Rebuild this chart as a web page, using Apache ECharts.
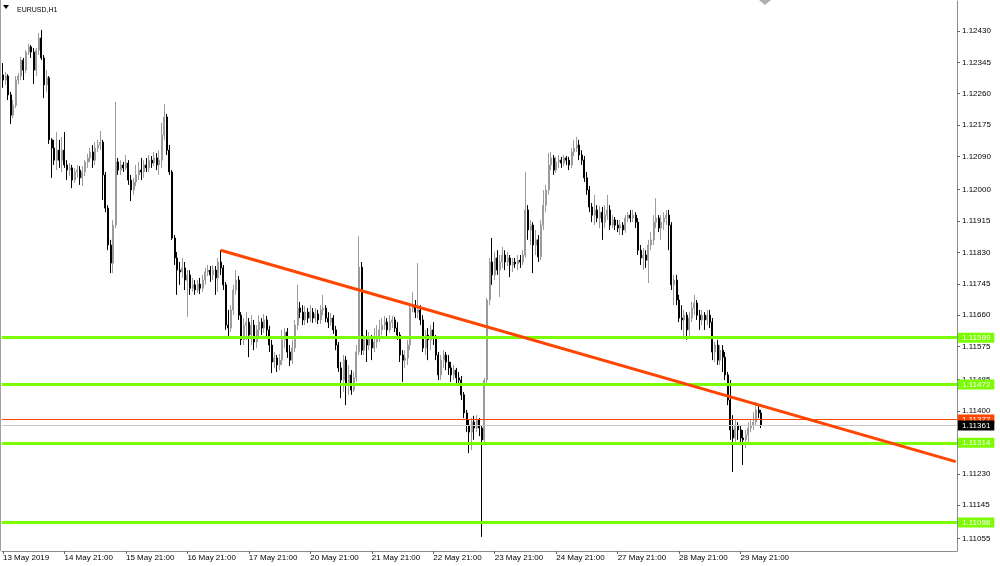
<!DOCTYPE html>
<html><head><meta charset="utf-8">
<script src="https://cdn.jsdelivr.net/npm/echarts@6/dist/echarts.min.js"></script>
<style>html,body{margin:0;padding:0;background:#fff}#c{width:1000px;height:566px}</style>
</head><body><div id="c"></div>
<script>
// ---- data ----
const symbolTitle = 'EURUSD,H1';
const tickLabels = ['13 May 2019','14 May 21:00','15 May 21:00','16 May 21:00','17 May 21:00','20 May 21:00','21 May 21:00','22 May 21:00','23 May 21:00','24 May 21:00','27 May 21:00','28 May 21:00','29 May 21:00'];
const yTickValues = [1.11055,1.11145,1.11230,1.11400,1.11485,1.11575,1.11660,1.11745,1.11830,1.11915,1.12000,1.12090,1.12175,1.12260,1.12345,1.12430];
const levelLines = [1.11599,1.11472,1.11314,1.11098];
const askPrice = 1.11377;
const bidPrice = 1.11361;
const trendStart = [85, 1.11836];
const trendEnd = [372, 1.11263];
const barsPerLabel = 24;
const slotCount = 373;
const yMin = 1.110208, yMax = 1.125113;

const opens = [1.12311,1.12297,1.12308,1.12257,1.12202,1.12229,1.12297,1.12308,1.12351,1.12324,
1.12373,1.12387,1.12373,1.12324,1.12378,1.12411,1.12357,1.12284,1.12303,1.12135,
1.12113,1.12080,1.12107,1.12080,1.12107,1.12067,1.12053,1.12059,1.12026,1.12048,
1.12053,1.12032,1.12048,1.12075,1.12086,1.12102,1.12080,1.12113,1.12121,1.12129,
1.12040,1.11950,1.11850,1.11801,1.11904,1.12075,1.12053,1.12067,1.12059,1.12072,
1.12026,1.11999,1.12021,1.12040,1.12053,1.12048,1.12067,1.12059,1.12080,1.12072,
1.12086,1.12067,1.12080,1.12148,1.12197,1.12107,1.12048,1.11869,1.11815,1.11782,
1.11777,1.11788,1.11755,1.11769,1.11733,1.11742,1.11728,1.11744,1.11733,1.11755,
1.11777,1.11782,1.11769,1.11782,1.11761,1.11804,1.11788,1.11742,1.11633,1.11625,
1.11674,1.11728,1.11755,1.11660,1.11593,1.11633,1.11641,1.11606,1.11633,1.11587,
1.11620,1.11641,1.11625,1.11647,1.11620,1.11579,1.11533,1.11544,1.11525,1.11538,
1.11593,1.11614,1.11560,1.11538,1.11571,1.11633,1.11679,1.11668,1.11647,1.11668,
1.11652,1.11668,1.11652,1.11663,1.11647,1.11674,1.11679,1.11652,1.11641,1.11652,
1.11620,1.11579,1.11517,1.11484,1.11538,1.11471,1.11498,1.11457,1.11490,1.11560,
1.11790,1.11565,1.11593,1.11579,1.11598,1.11571,1.11587,1.11598,1.11620,1.11633,
1.11641,1.11620,1.11641,1.11647,1.11625,1.11606,1.11552,1.11538,1.11544,1.11579,
1.11679,1.11687,1.11668,1.11674,1.11647,1.11571,1.11606,1.11593,1.11620,1.11598,
1.11552,1.11498,1.11538,1.11552,1.11533,1.11517,1.11498,1.11511,1.11490,1.11484,
1.11444,1.11395,1.11362,1.11343,1.11370,1.11354,1.11376,1.11354,1.11322,1.11484,
1.11701,1.11804,1.11769,1.11815,1.11782,1.11804,1.11823,1.11804,1.11815,1.11796,
1.11804,1.11799,1.11809,1.11804,1.11823,1.11945,1.11891,1.11904,1.11850,1.11864,
1.11818,1.11904,1.11958,1.11999,1.12067,1.12086,1.12053,1.12075,1.12080,1.12072,
1.12086,1.12080,1.12067,1.12102,1.12113,1.12121,1.12094,1.12080,1.12032,1.11999,
1.11953,1.11931,1.11945,1.11923,1.11939,1.11912,1.11931,1.11945,1.11904,1.11918,
1.11904,1.11896,1.11904,1.11891,1.11923,1.11931,1.11923,1.11931,1.11912,1.11836,
1.11815,1.11823,1.11809,1.11850,1.11864,1.11912,1.11923,1.11896,1.11912,1.11923,
1.11931,1.11904,1.11742,1.11755,1.11701,1.11652,1.11647,1.11660,1.11620,1.11652,
1.11679,1.11693,1.11660,1.11647,1.11660,1.11647,1.11660,1.11641,1.11560,1.11579,
1.11538,1.11565,1.11546,1.11498,1.11430,1.11349,1.11327,1.11362,1.11349,1.11327,
1.11322,1.11335,1.11354,1.11362,1.11370,1.11403,1.11395];

const closes = [1.12297,1.12308,1.12257,1.12202,1.12229,1.12297,1.12308,1.12351,1.12324,1.12373,
1.12387,1.12373,1.12324,1.12378,1.12411,1.12357,1.12284,1.12303,1.12135,1.12113,
1.12080,1.12107,1.12080,1.12107,1.12067,1.12053,1.12059,1.12026,1.12048,1.12053,
1.12032,1.12048,1.12075,1.12086,1.12102,1.12080,1.12113,1.12121,1.12129,1.12040,
1.11950,1.11850,1.11801,1.11904,1.12075,1.12053,1.12067,1.12059,1.12072,1.12026,
1.11999,1.12021,1.12040,1.12053,1.12048,1.12067,1.12059,1.12080,1.12072,1.12086,
1.12067,1.12080,1.12148,1.12197,1.12107,1.12048,1.11869,1.11815,1.11782,1.11777,
1.11788,1.11755,1.11769,1.11733,1.11742,1.11728,1.11744,1.11733,1.11755,1.11777,
1.11782,1.11769,1.11782,1.11761,1.11804,1.11788,1.11742,1.11633,1.11625,1.11674,
1.11728,1.11755,1.11660,1.11593,1.11633,1.11641,1.11606,1.11633,1.11587,1.11620,
1.11641,1.11625,1.11647,1.11620,1.11579,1.11533,1.11544,1.11525,1.11538,1.11593,
1.11614,1.11560,1.11538,1.11571,1.11633,1.11679,1.11668,1.11647,1.11668,1.11652,
1.11668,1.11652,1.11663,1.11647,1.11674,1.11679,1.11652,1.11641,1.11652,1.11620,
1.11579,1.11517,1.11484,1.11538,1.11471,1.11498,1.11457,1.11490,1.11560,1.11790,
1.11565,1.11593,1.11579,1.11598,1.11571,1.11587,1.11598,1.11620,1.11633,1.11641,
1.11620,1.11641,1.11647,1.11625,1.11606,1.11552,1.11538,1.11544,1.11579,1.11679,
1.11687,1.11668,1.11674,1.11647,1.11571,1.11606,1.11593,1.11620,1.11598,1.11552,
1.11498,1.11538,1.11552,1.11533,1.11517,1.11498,1.11511,1.11490,1.11484,1.11444,
1.11395,1.11362,1.11343,1.11370,1.11354,1.11376,1.11354,1.11322,1.11484,1.11701,
1.11804,1.11769,1.11815,1.11782,1.11804,1.11823,1.11804,1.11815,1.11796,1.11804,
1.11799,1.11809,1.11804,1.11823,1.11945,1.11891,1.11904,1.11850,1.11864,1.11818,
1.11904,1.11958,1.11999,1.12067,1.12086,1.12053,1.12075,1.12080,1.12072,1.12086,
1.12080,1.12067,1.12102,1.12113,1.12121,1.12094,1.12080,1.12032,1.11999,1.11953,
1.11931,1.11945,1.11923,1.11939,1.11912,1.11931,1.11945,1.11904,1.11918,1.11904,
1.11896,1.11904,1.11891,1.11923,1.11931,1.11923,1.11931,1.11912,1.11836,1.11815,
1.11823,1.11809,1.11850,1.11864,1.11912,1.11923,1.11896,1.11912,1.11923,1.11931,
1.11904,1.11742,1.11755,1.11701,1.11652,1.11647,1.11660,1.11620,1.11652,1.11679,
1.11693,1.11660,1.11647,1.11660,1.11647,1.11660,1.11641,1.11560,1.11579,1.11538,
1.11565,1.11546,1.11498,1.11430,1.11349,1.11327,1.11362,1.11349,1.11327,1.11322,
1.11335,1.11354,1.11362,1.11370,1.11403,1.11395,1.11361];

const lows = [1.12276,1.12284,1.12243,1.12178,1.12194,1.12221,1.12286,1.12297,1.12297,1.12316,
1.12365,1.12357,1.12286,1.12308,1.12365,1.12351,1.12248,1.12265,1.12124,1.12032,
1.12067,1.12053,1.12059,1.12048,1.12059,1.12026,1.12037,1.12004,1.12018,1.12032,
1.12013,1.12010,1.12037,1.12059,1.12075,1.12059,1.12067,1.12102,1.12107,1.11972,
1.11939,1.11836,1.11774,1.11774,1.11896,1.12040,1.12040,1.12048,1.12053,1.12013,
1.11969,1.11986,1.12010,1.12026,1.12026,1.12032,1.12048,1.12048,1.12059,1.12064,
1.12053,1.12040,1.12059,1.12135,1.12094,1.12040,1.11864,1.11796,1.11715,1.11742,
1.11761,1.11728,1.11655,1.11715,1.11723,1.11715,1.11720,1.11717,1.11723,1.11742,
1.11766,1.11750,1.11755,1.11715,1.11723,1.11769,1.11728,1.11620,1.11601,1.11614,
1.11660,1.11715,1.11647,1.11579,1.11579,1.11593,1.11546,1.11579,1.11565,1.11571,
1.11603,1.11606,1.11612,1.11598,1.11560,1.11503,1.11517,1.11506,1.11511,1.11525,
1.11571,1.11544,1.11522,1.11528,1.11560,1.11620,1.11652,1.11633,1.11633,1.11639,
1.11641,1.11639,1.11641,1.11636,1.11636,1.11660,1.11641,1.11625,1.11631,1.11609,
1.11565,1.11506,1.11435,1.11452,1.11416,1.11444,1.11444,1.11452,1.11479,1.11552,
1.11552,1.11552,1.11533,1.11565,1.11538,1.11560,1.11571,1.11587,1.11606,1.11620,
1.11603,1.11612,1.11625,1.11614,1.11593,1.11533,1.11479,1.11517,1.11525,1.11565,
1.11668,1.11652,1.11652,1.11633,1.11560,1.11552,1.11538,1.11565,1.11579,1.11538,
1.11484,1.11484,1.11517,1.11511,1.11498,1.11479,1.11484,1.11471,1.11471,1.11430,
1.11381,1.11343,1.11286,1.11294,1.11322,1.11343,1.11332,1.11059,1.11316,1.11476,
1.11687,1.11742,1.11755,1.11769,1.11709,1.11788,1.11782,1.11793,1.11763,1.11777,
1.11788,1.11782,1.11788,1.11796,1.11815,1.11864,1.11850,1.11774,1.11823,1.11804,
1.11809,1.11891,1.11939,1.11986,1.12053,1.12040,1.12045,1.12059,1.12059,1.12064,
1.12067,1.12053,1.12059,1.12091,1.12102,1.12080,1.12067,1.12021,1.11986,1.11939,
1.11912,1.11904,1.11912,1.11896,1.11864,1.11896,1.11918,1.11891,1.11896,1.11891,
1.11885,1.11877,1.11877,1.11883,1.11912,1.11912,1.11912,1.11896,1.11823,1.11796,
1.11782,1.11788,1.11747,1.11836,1.11850,1.11896,1.11885,1.11864,1.11891,1.11904,
1.11836,1.11728,1.11687,1.11687,1.11641,1.11620,1.11598,1.11593,1.11598,1.11641,
1.11660,1.11647,1.11620,1.11633,1.11620,1.11633,1.11625,1.11538,1.11533,1.11525,
1.11525,1.11506,1.11484,1.11416,1.11322,1.11235,1.11316,1.11322,1.11313,1.11254,
1.11300,1.11308,1.11343,1.11349,1.11362,1.11381,1.11354];

const highs = [1.12343,1.12319,1.12313,1.12265,1.12243,1.12308,1.12316,1.12360,1.12357,1.12378,
1.12395,1.12392,1.12384,1.12384,1.12425,1.12433,1.12365,1.12324,1.12308,1.12140,
1.12135,1.12156,1.12135,1.12143,1.12156,1.12080,1.12072,1.12067,1.12059,1.12067,
1.12064,1.12064,1.12080,1.12097,1.12113,1.12121,1.12129,1.12135,1.12159,1.12135,
1.12048,1.11958,1.11864,1.11918,1.12238,1.12086,1.12080,1.12075,1.12094,1.12080,
1.12040,1.12032,1.12067,1.12075,1.12086,1.12080,1.12086,1.12094,1.12091,1.12102,
1.12099,1.12107,1.12181,1.12232,1.12205,1.12121,1.12053,1.11877,1.11831,1.11804,
1.11815,1.11804,1.11782,1.11782,1.11761,1.11755,1.11755,1.11761,1.11769,1.11788,
1.11796,1.11793,1.11796,1.11793,1.11815,1.11836,1.11796,1.11750,1.11674,1.11687,
1.11742,1.11782,1.11766,1.11668,1.11652,1.11668,1.11652,1.11660,1.11647,1.11633,
1.11660,1.11652,1.11663,1.11658,1.11631,1.11593,1.11560,1.11552,1.11555,1.11620,
1.11625,1.11625,1.11579,1.11593,1.11647,1.11742,1.11696,1.11687,1.11685,1.11679,
1.11687,1.11679,1.11679,1.11674,1.11687,1.11715,1.11687,1.11668,1.11666,1.11660,
1.11631,1.11587,1.11533,1.11552,1.11549,1.11525,1.11511,1.11506,1.11579,1.11874,
1.11804,1.11606,1.11620,1.11614,1.11606,1.11625,1.11633,1.11647,1.11652,1.11658,
1.11652,1.11660,1.11658,1.11655,1.11641,1.11614,1.11565,1.11565,1.11593,1.11690,
1.11723,1.11701,1.11801,1.11687,1.11660,1.11620,1.11625,1.11633,1.11641,1.11606,
1.11560,1.11552,1.11565,1.11560,1.11552,1.11533,1.11525,1.11517,1.11506,1.11495,
1.11452,1.11403,1.11376,1.11381,1.11387,1.11389,1.11381,1.11362,1.11490,1.11706,
1.11815,1.11869,1.11831,1.11836,1.11823,1.11845,1.11836,1.11831,1.11823,1.11815,
1.11815,1.11823,1.11823,1.11836,1.12048,1.11958,1.11918,1.11912,1.11891,1.11877,
1.11918,1.11999,1.12013,1.12099,1.12102,1.12094,1.12089,1.12094,1.12089,1.12094,
1.12091,1.12089,1.12113,1.12135,1.12143,1.12135,1.12107,1.12091,1.12048,1.12010,
1.11964,1.11986,1.11958,1.11956,1.11953,1.11958,1.11986,1.11958,1.11931,1.11926,
1.11918,1.11918,1.11912,1.11931,1.11939,1.11945,1.11945,1.11939,1.11923,1.11850,
1.11842,1.11836,1.11864,1.11885,1.11931,1.11977,1.11931,1.11931,1.11939,1.11945,
1.11945,1.11912,1.11769,1.11769,1.11715,1.11687,1.11674,1.11668,1.11668,1.11696,
1.11715,1.11701,1.11674,1.11674,1.11668,1.11674,1.11674,1.11652,1.11587,1.11593,
1.11579,1.11579,1.11560,1.11506,1.11484,1.11389,1.11376,1.11370,1.11362,1.11349,
1.11349,1.11370,1.11376,1.11397,1.11425,1.11416,1.11403];

// ---- chart ----
const FONT = 'Liberation Sans, Arial, sans-serif';
const slots = Array.from({length: slotCount}, (_, i) => i);
const candleData = opens.map((o, i) => [o, closes[i], lows[i], highs[i]]);
const isLabelSlot = (i) => i % barsPerLabel === 0 && (i / barsPerLabel) < tickLabels.length;

function priceLabel(bg, value) {
  return {
    show: true, position: 'end', distance: 1,
    formatter: () => value.toFixed(5),
    backgroundColor: bg, color: '#ffffff', fontSize: 8, fontFamily: FONT,
    padding: [1, 4, 0, 4], lineHeight: 9
  };
}
function hLine(value, color, width, labelBg) {
  return {yAxis: value, lineStyle: {color: color, width: width, type: 'solid'}, label: priceLabel(labelBg, value)};
}

const markData = levelLines.map(v => hLine(v, '#7CFC00', 3, '#7CFC00'));
markData.push(hLine(askPrice, '#FF4500', 1, '#FF4500'));
markData.push(hLine(bidPrice, '#C8C8C8', 1, '#000000'));
markData.push([
  {coord: trendStart, lineStyle: {color: '#FF4500', width: 3, type: 'solid'}, label: {show: false}},
  {coord: trendEnd}
]);

const chart = echarts.init(document.getElementById('c'), null, {renderer: 'canvas'});
chart.setOption({
  animation: false,
  backgroundColor: '#ffffff',
  title: {
    text: symbolTitle, left: 12, top: 2,
    textStyle: {fontSize: 7, fontWeight: 'normal', color: '#000', fontFamily: FONT}
  },
  grid: {left: 0, right: 43, top: 1, bottom: 15, containLabel: false},
  xAxis: {
    type: 'category', data: slots, boundaryGap: true,
    axisLine: {show: true, lineStyle: {color: '#8c8c8c', width: 1}},
    axisTick: {show: true, alignWithLabel: true, length: 3, interval: isLabelSlot, lineStyle: {color: '#666'}},
    axisLabel: {
      interval: isLabelSlot, align: 'left', margin: 3,
      formatter: (v) => tickLabels[Number(v) / barsPerLabel] || '',
      fontSize: 8, color: '#000', fontFamily: FONT
    },
    splitLine: {show: false}
  },
  yAxis: {
    type: 'value', position: 'right', min: yMin, max: yMax,
    axisLine: {show: true, lineStyle: {color: '#8c8c8c', width: 1}},
    axisTick: {show: true, length: 3, customValues: yTickValues, lineStyle: {color: '#666'}},
    axisLabel: {customValues: yTickValues, formatter: (v) => v.toFixed(5), fontSize: 8, color: '#000', margin: 5, fontFamily: FONT},
    splitLine: {show: false}
  },
  series: [{
    type: 'candlestick',
    data: candleData,
    barWidth: 1.5,
    clip: false,
    itemStyle: {color: '#9b9b9b', color0: '#000000', borderColor: '#9b9b9b', borderColor0: '#000000', borderWidth: 1},
    markLine: {symbol: ['none', 'none'], silent: true, animation: false, precision: 5, data: markData}
  }],
  graphic: [
    {type: 'polygon', shape: {points: [[3, 5], [9, 5], [6, 9]]}, style: {fill: '#000'}},
    {type: 'polygon', shape: {points: [[759, 0], [771, 0], [765, 5]]}, style: {fill: '#b0b0b0'}},
    {type: 'rect', shape: {x: 0, y: 0, width: 1, height: 551}, style: {fill: '#a0a0a0'}}
  ]
});
</script>
</body></html>
